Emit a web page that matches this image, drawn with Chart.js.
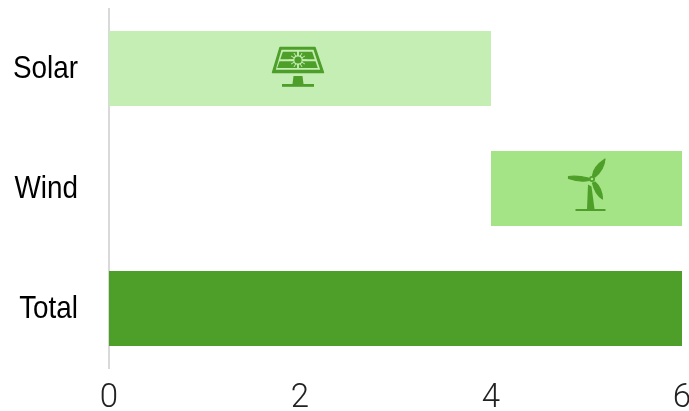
<!DOCTYPE html>
<html>
<head>
<meta charset="utf-8">
<style>html,body{margin:0;padding:0;background:#fff}canvas{display:block}</style>
<script src="https://cdn.jsdelivr.net/npm/chart.js@4"></script>
</head>
<body>
<canvas id="c" width="689" height="411"></canvas>
<script>
const categories = ["Solar", "Wind", "Total"];
const barStarts = [0, 4, 0];
const barEnds = [4, 6, 6];
const barColors = ["#C5EEB4", "#A5E486", "#4E9F29"];
const iconNames = ["solar", "wind", null];
const xTicks = [0, 2, 4, 6];
const DARK = "#4E9F29";
const NARROW = 0.87;

function poly(ctx, pts) {
  ctx.beginPath();
  pts.forEach((p, i) => i ? ctx.lineTo(p[0], p[1]) : ctx.moveTo(p[0], p[1]));
  ctx.closePath();
  ctx.fill();
}

function drawSolar(ctx, cx, cy, bg) {
  ctx.save();
  ctx.translate(cx - 2, cy);
  ctx.lineJoin = "round";
  ctx.fillStyle = DARK;
  ctx.strokeStyle = DARK;
  ctx.lineWidth = 1.4;
  poly(ctx, [[-18, -21], [17, -21], [25.5, 4], [-25.5, 4]]);
  ctx.stroke();
  ctx.fillStyle = bg;
  poly(ctx, [[-16.5, -18.8], [15.5, -18.8], [22.2, 1.2], [-22.2, 1.2]]);
  ctx.fillStyle = DARK;
  poly(ctx, [[-15.2, -16.8], [-0.8, -16.8], [-0.8, -9.2], [-17.7, -9.2]]);
  poly(ctx, [[0.8, -16.8], [14.2, -16.8], [16.7, -9.2], [0.8, -9.2]]);
  poly(ctx, [[-18.5, -7.2], [-0.8, -7.2], [-0.8, -0.6], [-20.8, -0.6]]);
  poly(ctx, [[0.8, -7.2], [17.5, -7.2], [19.8, -0.6], [0.8, -0.6]]);
  const sx = 0, sy = -8.5;
  ctx.strokeStyle = bg;
  ctx.lineWidth = 1;
  for (let a = 0; a < 12; a++) {
    const t = a * Math.PI / 6;
    const len = a % 3 === 0 ? 9 : 8;
    ctx.beginPath();
    ctx.moveTo(sx + Math.cos(t) * 4, sy + Math.sin(t) * 4);
    ctx.lineTo(sx + Math.cos(t) * len, sy + Math.sin(t) * len);
    ctx.stroke();
  }
  ctx.fillStyle = bg;
  ctx.beginPath(); ctx.arc(sx, sy, 4.8, 0, Math.PI * 2); ctx.fill();
  ctx.fillStyle = DARK;
  ctx.beginPath(); ctx.arc(sx, sy, 3.6, 0, Math.PI * 2); ctx.fill();
  poly(ctx, [[-4.5, 7.5], [4.5, 7.5], [5.5, 15.5], [-5.5, 15.5]]);
  ctx.fillRect(-16, 15.5, 32, 2.8);
  ctx.restore();
}

function drawWind(ctx, cx, cy, bg) {
  ctx.save();
  ctx.translate(cx, cy);
  ctx.fillStyle = DARK;
  ctx.strokeStyle = DARK;
  ctx.lineWidth = 1.2;
  ctx.lineJoin = "round";
  const hx = 5.5, hy = -9.5;
  ctx.beginPath();
  ctx.moveTo(hx + 0.5, hy - 3);
  ctx.quadraticCurveTo(hx + 1, hy - 12, hx + 13, hy - 20);
  ctx.quadraticCurveTo(hx + 12, hy - 9, hx + 3, hy - 2);
  ctx.closePath(); ctx.fill(); ctx.stroke();
  ctx.beginPath();
  ctx.moveTo(hx - 3.5, hy - 1);
  ctx.quadraticCurveTo(hx - 14, hy - 3.5, hx - 23.5, hy - 2.5);
  ctx.lineTo(hx - 23.5, hy - 0.5);
  ctx.quadraticCurveTo(hx - 12, hy + 3.5, hx - 3, hy + 1.5);
  ctx.closePath(); ctx.fill(); ctx.stroke();
  ctx.beginPath();
  ctx.moveTo(hx + 3, hy + 3);
  ctx.quadraticCurveTo(hx + 10, hy + 9, hx + 10.5, hy + 20);
  ctx.quadraticCurveTo(hx + 3, hy + 15, hx + 0.5, hy + 4);
  ctx.closePath(); ctx.fill(); ctx.stroke();
  ctx.beginPath(); ctx.arc(hx, hy, 3, 0, Math.PI * 2); ctx.fill();
  ctx.fillStyle = bg;
  ctx.beginPath(); ctx.arc(hx, hy, 1.3, 0, Math.PI * 2); ctx.fill();
  ctx.fillStyle = DARK;
  poly(ctx, [[1.5, -4], [5, -2], [8, 20.5], [0.5, 20.5]]);
  ctx.fillRect(-11, 20.5, 30, 2);
  ctx.restore();
}

const iconPlugin = {
  id: "icons",
  beforeDraw(chart) {
    // Narrow the sans labels horizontally, since no condensed family is installed.
    const ctx = chart.ctx;
    const native = CanvasRenderingContext2D.prototype.fillText;
    ctx.fillText = function (text, x, y, maxW) {
      if (this.font.indexOf("Liberation") < 0) return native.call(this, text, x, y, maxW);
      this.save();
      this.translate(x, y + 1);
      this.scale(NARROW, 1);
      native.call(this, text, 0, 0);
      this.restore();
    };
  },
  afterDatasetsDraw(chart) {
    const { ctx, scales } = chart;
    iconNames.forEach((name, i) => {
      if (!name) return;
      const cx = scales.x.getPixelForValue((barStarts[i] + barEnds[i]) / 2);
      const cy = scales.y.getPixelForValue(i);
      if (name === "solar") drawSolar(ctx, cx, cy, barColors[i]);
      else drawWind(ctx, cx, cy, barColors[i]);
    });
  }
};

new Chart(document.getElementById("c"), {
  type: "bar",
  plugins: [iconPlugin],
  data: {
    labels: categories,
    datasets: [{
      data: categories.map((_, i) => [barStarts[i], barEnds[i]]),
      backgroundColor: barColors,
      borderWidth: 0,
      borderSkipped: false,
      barPercentage: 0.625,
      categoryPercentage: 1
    }]
  },
  options: {
    indexAxis: "y",
    responsive: false,
    animation: false,
    layout: { padding: { top: 8.5, right: 7, left: 0, bottom: 0 } },
    plugins: { legend: { display: false }, tooltip: { enabled: false } },
    scales: {
      x: {
        min: 0, max: 6,
        afterBuildTicks(s) { s.ticks = xTicks.map(v => ({ value: v })); },
        afterFit(s) { s.height = 42.5; s.paddingLeft = 0; s.paddingRight = 0; },
        grid: { display: false, drawTicks: false },
        border: { display: false },
        ticks: {
          color: "#222222", maxRotation: 0, padding: 10,
          font: { family: "Roboto", weight: "300", size: 33 }
        }
      },
      y: {
        afterFit(s) { s.width = 109; s.paddingTop = 0; s.paddingBottom = 0; },
        grid: { display: false, drawTicks: false },
        border: { display: true, color: "#D9D9D9", width: 2 },
        ticks: {
          color: "#000000", padding: 31,
          font: { family: "Liberation Sans", size: 32 }
        }
      }
    }
  }
});
</script>
</body>
</html>
